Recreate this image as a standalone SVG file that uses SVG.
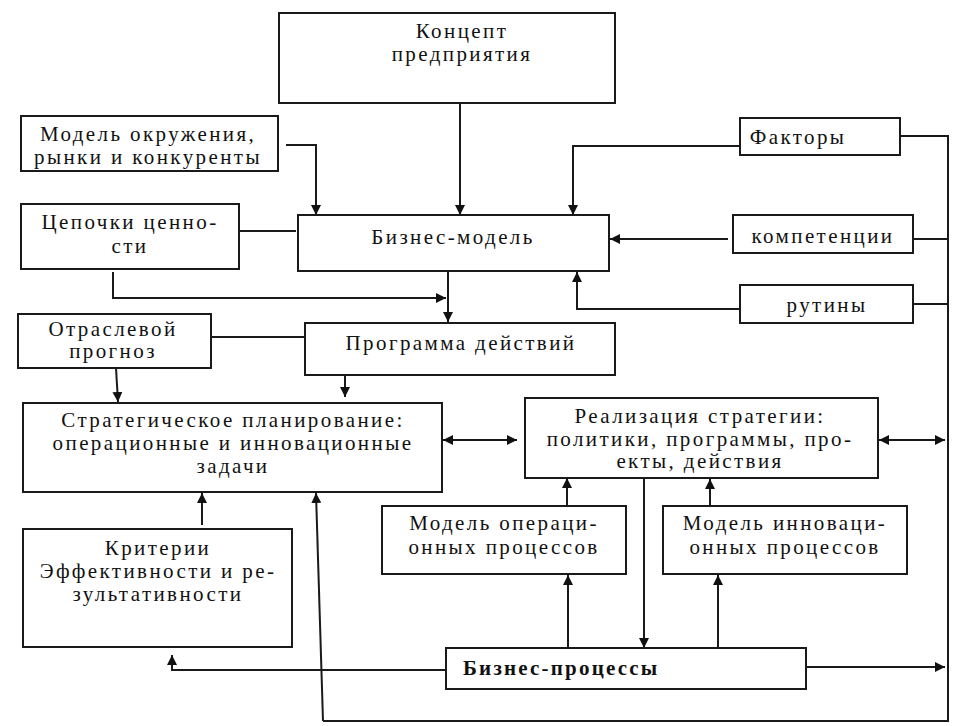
<svg xmlns="http://www.w3.org/2000/svg" width="962" height="726" viewBox="0 0 962 726">
<defs>
<marker id="ah" viewBox="0 0 10 10" refX="10" refY="5" markerWidth="10" markerHeight="10" markerUnits="userSpaceOnUse" orient="auto-start-reverse">
<path d="M0,0 L10,5 L0,10 z" fill="#111"/>
</marker>
</defs>
<style>
.box{fill:#fff;stroke:#1a1a1a;stroke-width:2}
text{font-family:'Liberation Serif','DejaVu Serif',serif;font-size:21px;fill:#111;text-anchor:middle;letter-spacing:2.4px}
.b{font-weight:bold;text-anchor:start;letter-spacing:2.2px}
.c{fill:none;stroke:#1a1a1a;stroke-width:2}
.a{marker-end:url(#ah)}
.bi{marker-start:url(#ah);marker-end:url(#ah)}
</style>
<rect width="962" height="726" fill="#fff"/>
<g id="connectors">
<path class="c a" d="M460,103 V215"/>
<path class="c a" d="M286,145 H316 V215"/>
<path class="c" d="M239,231 H296"/>
<path class="c a" d="M740,146 H573 V215"/>
<path class="c a" d="M728,239 H610"/>
<path class="c a" d="M740,309 H577 V272"/>
<path class="c" d="M900,136 H948 V721 H323"/>
<path class="c" d="M913,239 H948"/>
<path class="c" d="M913,304 H948"/>
<path class="c a" d="M113,272 V298 H446"/>
<path class="c a" d="M448,271 V322"/>
<path class="c" d="M211,337 H305"/>
<path class="c a" d="M116,368 L118,402"/>
<path class="c a" d="M345,375 V397"/>
<path class="c bi" d="M443,440 H517"/>
<path class="c bi" d="M879,440 H945"/>
<path class="c a" d="M202,525 V493"/>
<path class="c a" d="M323,721 L316,493"/>
<path class="c a" d="M567,506 V478"/>
<path class="c a" d="M710,506 V479"/>
<path class="c a" d="M644,479 V648"/>
<path class="c a" d="M568,648 V575"/>
<path class="c a" d="M718,648 V575"/>
<path class="c a" d="M446,670 H172 V655"/>
<path class="c a" d="M806,667 H945"/>
</g>
<g id="concept"><rect class="box" x="279" y="13" width="336" height="90"/>
<text x="462" y="38">Концепт</text><text x="462" y="61">предприятия</text></g>
<g id="env"><rect class="box" x="21" y="116" width="257" height="55"/>
<text x="148" y="141">Модель окружения,</text><text x="148" y="164">рынки и конкуренты</text></g>
<g id="chains"><rect class="box" x="21" y="204" width="218" height="65"/>
<text x="130" y="229">Цепочки ценно-</text><text x="130" y="253">сти</text></g>
<g id="bm"><rect class="box" x="298" y="215" width="311" height="56"/>
<text x="453" y="244">Бизнес-модель</text></g>
<g id="factors"><rect class="box" x="740" y="118" width="160" height="37"/>
<text x="798" y="144">Факторы</text></g>
<g id="comp"><rect class="box" x="733" y="215" width="180" height="38"/>
<text x="823" y="243">компетенции</text></g>
<g id="routines"><rect class="box" x="740" y="285" width="173" height="38"/>
<text x="827" y="312">рутины</text></g>
<g id="forecast"><rect class="box" x="18" y="314" width="193" height="54"/>
<text x="113" y="336">Отраслевой</text><text x="113" y="358">прогноз</text></g>
<g id="program"><rect class="box" x="305" y="323" width="310" height="52"/>
<text x="461" y="350">Программа действий</text></g>
<g id="strategic"><rect class="box" x="23" y="403" width="419" height="89"/>
<text x="233" y="427">Стратегическое планирование:</text><text x="233" y="450">операционные и инновационные</text><text x="233" y="473">задачи</text></g>
<g id="realization"><rect class="box" x="525" y="398" width="353" height="80"/>
<text x="700" y="423">Реализация стратегии:</text><text x="700" y="446">политики, программы, про-</text><text x="700" y="468">екты, действия</text></g>
<g id="criteria"><rect class="box" x="23" y="529" width="269" height="118"/>
<text x="158" y="555">Критерии</text><text x="158" y="578">Эффективности и ре-</text><text x="158" y="601">зультативности</text></g>
<g id="opmodel"><rect class="box" x="382" y="506" width="244" height="68"/>
<text x="504" y="530">Модель операци-</text><text x="504" y="554">онных процессов</text></g>
<g id="innmodel"><rect class="box" x="663" y="506" width="244" height="68"/>
<text x="785" y="530">Модель инноваци-</text><text x="785" y="554">онных процессов</text></g>
<g id="bp"><rect class="box" x="446" y="648" width="360" height="41"/>
<text class="b" x="463" y="675">Бизнес-процессы</text></g>
</svg>
